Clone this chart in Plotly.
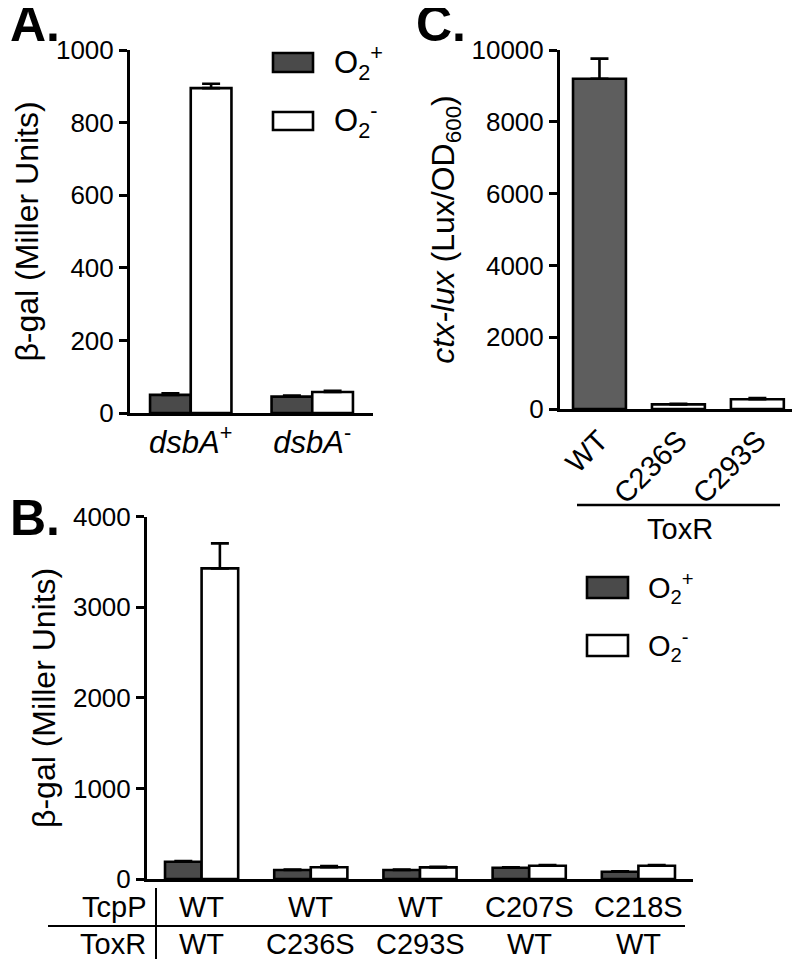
import plotly.graph_objects as go

# ---------------- data ----------------
# Panel A
a_categories = ["dsbA+", "dsbA-"]
a_ticktext = ["<i>dsbA</i><sup>+</sup>", "<i>dsbA</i><sup>-</sup>"]
a_o2plus = [50, 45]
a_o2plus_err = [4, 3]
a_o2minus = [895, 58]
a_o2minus_err = [12, 3]

# Panel B
b_categories = ["g1", "g2", "g3", "g4", "g5"]
b_tcpp = ["WT", "WT", "WT", "C207S", "C218S"]
b_toxr = ["WT", "C236S", "C293S", "WT", "WT"]
b_o2plus = [190, 100, 100, 125, 80]
b_o2plus_err = [8, 5, 5, 5, 5]
b_o2minus = [3430, 130, 128, 147, 147]
b_o2minus_err = [275, 12, 8, 8, 8]

# Panel C
c_categories = ["WT", "C236S", "C293S"]
c_values = [9200, 130, 270]
c_err = [560, 12, 35]

# ---------------- styling ----------------
W, H = 800, 959
OFF = 8  # page body margin
FONT = "Arial, Liberation Sans, Helvetica, sans-serif"
DARK = "#4a4a4a"
DARK_C = "#5e5e5e"
LW = 2.6


def px(x):
    return (x - OFF) / W


def py(y):
    return (H - (y - OFF)) / H


fig = go.Figure()

err_style = dict(type="data", symmetric=False, color="black", thickness=2.6, width=9)

# Panel A
fig.add_trace(go.Bar(x=a_categories, y=a_o2plus, name="O2+", marker=dict(color=DARK, line=dict(color="black", width=LW)),
                     error_y=dict(array=a_o2plus_err, arrayminus=[0] * len(a_o2plus_err), **err_style),
                     xaxis="x", yaxis="y", showlegend=False))
fig.add_trace(go.Bar(x=a_categories, y=a_o2minus, name="O2-", marker=dict(color="white", line=dict(color="black", width=LW)),
                     error_y=dict(array=a_o2minus_err, arrayminus=[0] * len(a_o2minus_err), **err_style),
                     xaxis="x", yaxis="y", showlegend=False))

# Panel C
fig.add_trace(go.Bar(x=c_categories, y=c_values, name="ctx-lux",
                     marker=dict(color=[DARK_C, "white", "white"], line=dict(color="black", width=LW)),
                     error_y=dict(array=c_err, arrayminus=[0] * len(c_err), **err_style),
                     xaxis="x2", yaxis="y2", showlegend=False, offsetgroup="c"))

# Panel B
fig.add_trace(go.Bar(x=b_categories, y=b_o2plus, name="O2+", marker=dict(color=DARK, line=dict(color="black", width=LW)),
                     error_y=dict(array=b_o2plus_err, arrayminus=[0] * len(b_o2plus_err), **err_style),
                     xaxis="x3", yaxis="y3", showlegend=False))
fig.add_trace(go.Bar(x=b_categories, y=b_o2minus, name="O2-", marker=dict(color="white", line=dict(color="black", width=LW)),
                     error_y=dict(array=b_o2minus_err, arrayminus=[0] * len(b_o2minus_err), **err_style),
                     xaxis="x3", yaxis="y3", showlegend=False))

axis_common = dict(showline=True, linecolor="black", linewidth=3, showgrid=False, zeroline=False,
                   automargin=False, tickfont=dict(family=FONT, size=26, color="black"))
yaxis_common = dict(axis_common, ticks="outside", ticklen=8, tickwidth=3, tickcolor="black", tickformat="d")

fig.update_layout(
    width=W, height=H,
    margin=dict(l=0, r=0, t=0, b=0, pad=0),
    paper_bgcolor="white", plot_bgcolor="white",
    barmode="group", bargap=0.33, bargroupgap=0,
    font=dict(family=FONT, color="black"),
    xaxis=dict(axis_common, domain=[px(130), px(373)], anchor="y", range=[-0.5, 1.5],
               tickmode="array", tickvals=a_categories, ticktext=a_ticktext,
               tickfont=dict(family=FONT, size=31, color="black"), ticks=""),
    yaxis=dict(yaxis_common, domain=[py(413), py(50)], anchor="x", range=[0, 1000],
               tickvals=[0, 200, 400, 600, 800, 1000],
               title=dict(text="β-gal (Miller Units)", font=dict(family=FONT, size=32), standoff=8)),
    xaxis2=dict(axis_common, domain=[px(560), px(800)], anchor="y2", range=[-0.5, 2.54],
                tickangle=-45, ticks="", tickfont=dict(family=FONT, size=29, color="black")),
    yaxis2=dict(yaxis_common, domain=[py(409), py(50)], anchor="x2", range=[0, 10000],
                tickvals=[0, 2000, 4000, 6000, 8000, 10000],
                title=dict(text="<i>ctx-lux</i> (Lux/OD<sub>600</sub>)", font=dict(family=FONT, size=32), standoff=8)),
    xaxis3=dict(axis_common, domain=[px(147), px(693)], anchor="y3", range=[-0.5, 4.5],
                showticklabels=False, ticks=""),
    yaxis3=dict(yaxis_common, domain=[py(879), py(516.7)], anchor="x3", range=[0, 4000],
                tickvals=[0, 1000, 2000, 3000, 4000],
                title=dict(text="β-gal (Miller Units)", font=dict(family=FONT, size=32), standoff=8)),
)

annotations = []
shapes = []

# Panel letters
for letter, x, y in [("A.", 8, 24), ("C.", 414, 24), ("B.", 8, 518)]:
    annotations.append(dict(text=f"<b>{letter}</b>", x=px(x), y=py(y), xref="paper", yref="paper",
                            xanchor="left", yanchor="middle", showarrow=False,
                            font=dict(family=FONT, size=50, color="black")))

# Manual legends (A and B)
def add_legend(x0, x1, ytops, text_x, fontsize):
    for (yt, yb), fill, label in zip(ytops, [DARK, "white"], ["O<sub>2</sub><sup>+</sup>", "O<sub>2</sub><sup>-</sup>"]):
        shapes.append(dict(type="rect", xref="paper", yref="paper", x0=px(x0), x1=px(x1), y0=py(yb), y1=py(yt),
                           fillcolor=fill, line=dict(color="black", width=LW)))
        annotations.append(dict(text=label, x=px(text_x), y=py((yt + yb) / 2), xref="paper", yref="paper",
                                xanchor="left", yanchor="middle", showarrow=False,
                                font=dict(family=FONT, size=fontsize, color="black")))

add_legend(273, 313, [(53, 72), (112, 130)], 332, 31)
add_legend(587, 628, [(577, 598), (635, 656)], 646, 29)

# Panel C: ToxR bracket
shapes.append(dict(type="line", xref="paper", yref="paper", x0=px(577), x1=px(780), y0=py(505), y1=py(505),
                   line=dict(color="black", width=2.5)))
annotations.append(dict(text="ToxR", x=px(680), y=py(529), xref="paper", yref="paper", showarrow=False,
                        xanchor="center", yanchor="middle", font=dict(family=FONT, size=29, color="black")))

# Panel B: table
for cat, t, r in zip(b_categories, b_tcpp, b_toxr):
    annotations.append(dict(text=t, x=cat, xref="x3", y=py(907), yref="paper", showarrow=False,
                            xanchor="center", yanchor="middle", font=dict(family=FONT, size=29, color="black")))
    annotations.append(dict(text=r, x=cat, xref="x3", y=py(944), yref="paper", showarrow=False,
                            xanchor="center", yanchor="middle", font=dict(family=FONT, size=29, color="black")))
for label, y in [("TcpP", 907), ("ToxR", 944)]:
    annotations.append(dict(text=label, x=px(148), y=py(y), xref="paper", yref="paper", showarrow=False,
                            xanchor="right", yanchor="middle", font=dict(family=FONT, size=29, color="black")))
shapes.append(dict(type="line", xref="paper", yref="paper", x0=px(48), x1=px(685), y0=py(926), y1=py(926),
                   line=dict(color="black", width=2)))
shapes.append(dict(type="line", xref="paper", yref="paper", x0=px(156), x1=px(156), y0=py(888), y1=py(959),
                   line=dict(color="black", width=2)))

fig.update_layout(annotations=annotations, shapes=shapes)

fig.write_html("out.html")
